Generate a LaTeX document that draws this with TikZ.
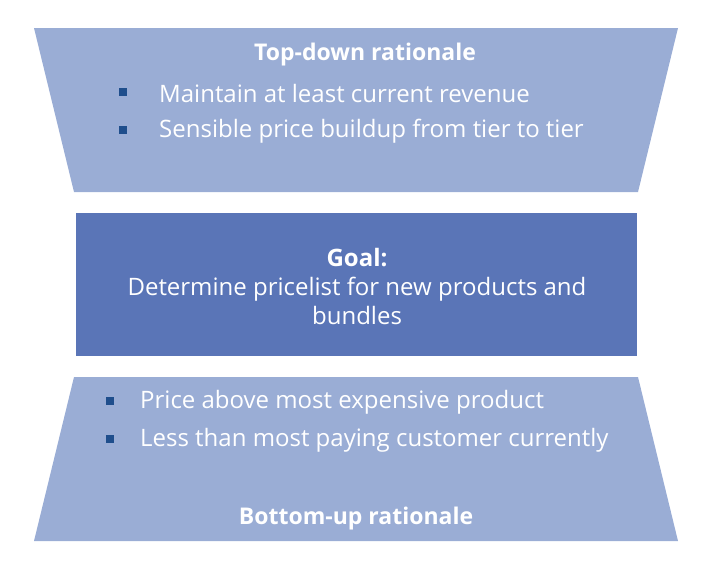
\documentclass[tikz,border=0pt]{standalone}
\usepackage{fontspec}
\setmainfont{Open Sans}
\definecolor{rationaleblue}{RGB}{154,173,213}
\definecolor{goalblue}{RGB}{90,117,183}
\definecolor{bulletblue}{RGB}{31,78,140}

\begin{document}
\begin{tikzpicture}[x=1pt,y=-1pt]
    \useasboundingbox (0,0) rectangle (706,574);
    \fill[rationaleblue] (34,28) -- (678,28) -- (638,192) -- (74,192) -- cycle;
    \fill[goalblue] (76,213) rectangle (637,356);
    \fill[rationaleblue] (74,377) -- (638,377) -- (678,541) -- (34,541) -- cycle;
    \begin{scope}[every node/.style={text=white,inner sep=0pt,font=\fontsize{24}{29}\selectfont}]
        \node[font=\fontsize{23}{29}\selectfont\bfseries] (TD) at (365,55) {Top-down rationale};
        \node[anchor=west] (T1) at (159,93) {Maintain at least current revenue};
        \node[anchor=west] (T2) at (159,131) {Sensible price buildup from tier to tier};
        \node[align=center] (G) at (357,286) {\bfseries Goal:\\Determine pricelist for new products and\\bundles};
        \node[anchor=west] (B1) at (140,402) {Price above most expensive product};
        \node[anchor=west] (B2) at (140,440) {Less than most paying customer currently};
        \node[font=\fontsize{23}{29}\selectfont\bfseries] (BU) at (356,519) {Bottom-up rationale};
    \end{scope}
    \begin{scope}[every node/.style={fill=bulletblue,minimum size=8pt,inner sep=0pt}]
        \node (P1) at (123,92) {};
        \node (P2) at (123,130) {};
        \node (P3) at (110,401) {};
        \node (P4) at (110,439) {};
    \end{scope}
\end{tikzpicture}
\end{document}
